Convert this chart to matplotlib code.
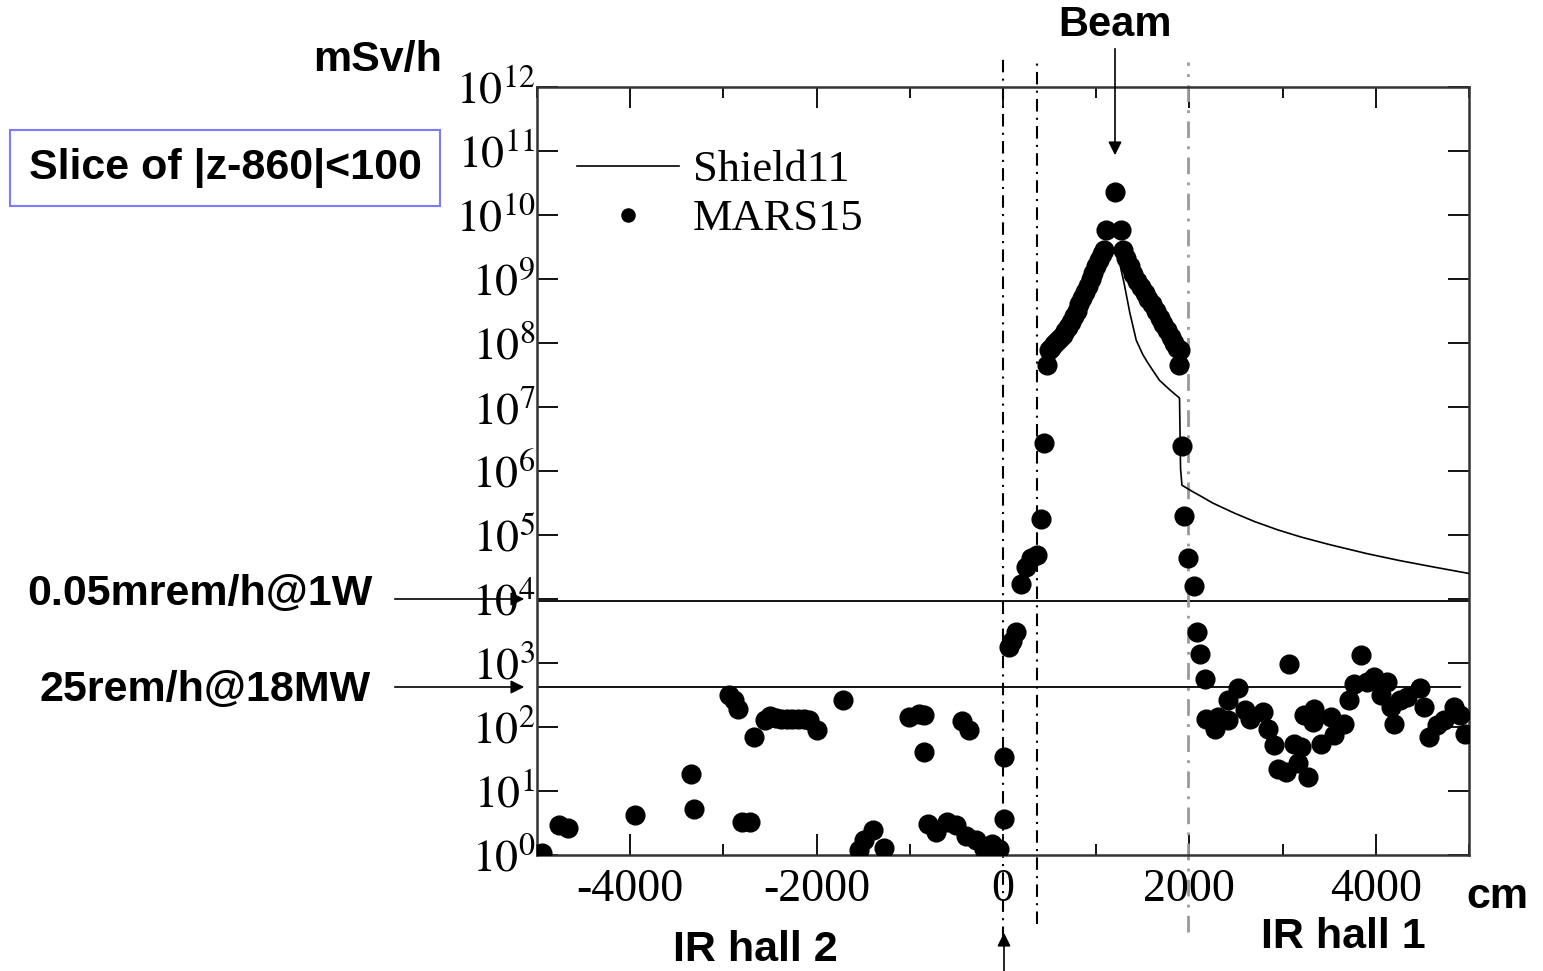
import numpy as np
import matplotlib
matplotlib.use('Agg')
import matplotlib.pyplot as plt
from matplotlib.ticker import FixedLocator, FuncFormatter

plt.rcParams['font.family'] = 'Liberation Serif'
plt.rcParams['mathtext.fontset'] = 'stix'
plt.rcParams['axes.unicode_minus'] = False

# MARS15 dose points (x in cm, dose in mSv/h)
# left tunnel / IR hall 2
hall2_x = [-4950, -4760, -4670, -3950, -3350, -3320, -2945, -2890, -2840, -2800, -2710,
           -2677, -2555, -2500, -2440, -2380, -2320, -2260, -2200, -2140, -2080, -2000,
           -1722, -1540, -1487, -1398, -1273, -1006, -900, -845, -845, -809, -720, -596,
           -506, -435, -400, -364, -293, -204, -115, -43, 10, 10]
hall2_y = [1.07, 2.9, 2.6, 4.2, 18.7, 5.2, 313, 262, 193, 3.3, 3.3,
           71, 130, 150, 140, 135, 135, 135, 135, 135, 130, 89,
           262, 1.2, 1.7, 2.5, 1.3, 144, 158, 152, 41, 3.1, 2.3, 3.3,
           2.9, 126, 2.0, 89, 1.7, 1.26, 1.5, 1.26, 34, 3.7]
# beam region between the walls
beam_x = [64, 100, 140, 189, 242, 296, 367, 403, 439, 474,
          492, 520, 550, 580, 610, 640, 670, 700, 730, 760, 790, 820, 850, 880, 910,
          940, 970, 1000, 1030, 1060, 1081, 1110, 1198, 1270,
          1284, 1320, 1360, 1400, 1440, 1480, 1520, 1560, 1600, 1640, 1680, 1720, 1760,
          1800, 1840, 1870, 1894, 1884, 1920, 1947, 1990, 2044]
beam_y = [1780, 2200, 3000, 17400, 31600, 43000, 48000, 1.8e5, 2.7e6, 4.5e7,
          7.8e7, 8.5e7, 9.5e7, 1.07e8, 1.2e8, 1.35e8, 1.55e8, 1.8e8, 2.1e8, 2.6e8, 3.2e8, 4.0e8,
          5.0e8, 6.3e8, 7.9e8, 1.0e9, 1.26e9, 1.6e9, 2.0e9, 2.45e9, 2.8e9, 5.8e9, 2.3e10, 5.8e9,
          2.8e9, 2.1e9, 1.6e9, 1.2e9, 9.3e8, 7.4e8, 6.0e8, 4.9e8, 4.0e8, 3.2e8, 2.5e8, 2.0e8, 1.6e8,
          1.26e8, 1.0e8, 8.5e7, 7.8e7, 4.5e7, 2.5e6, 2.0e5, 43000, 16000]
# IR hall 1
hall1_x = [2081, 2117, 2163,
           2182, 2271, 2307, 2414, 2414, 2520, 2592, 2645, 2787, 2841, 2912, 2948, 3037,
           3126, 3073, 3197, 3161, 3268, 3233, 3340, 3322, 3410, 3517, 3553, 3660, 3714,
           3767, 3837, 3909, 3980, 4051, 4122, 4158, 4194, 4265, 4336, 4478, 4514, 4568,
           4657, 4728, 4835, 4906, 4959]
hall1_y = [3000, 1400, 570,
           135, 94, 144, 127, 262, 400, 182, 135, 171, 94, 52, 22, 20,
           55, 980, 49, 27, 16.5, 152, 193, 120, 55, 144, 74, 113, 262,
           475, 1320, 500, 600, 315, 500, 205, 113, 262, 295, 400, 205, 70,
           107, 127, 205, 152, 79]

# Shield11 curve (right side of the beam)
shield_x = [1250, 1300, 1360, 1430, 1500, 1550, 1620, 1680, 1800, 1894, 1905, 1920, 2020,
            2128, 2250, 2485, 2700, 2950, 3197, 3500, 3909, 4250, 4621, 4959, 5000]
shield_y = [1.8e9, 8.5e8, 3.0e8, 1.1e8, 6.6e7, 5.0e7, 3.5e7, 2.6e7, 1.8e7, 1.38e7, 1.1e6, 6.0e5, 4.9e5,
            4.0e5, 3.16e5, 2.19e5, 1.62e5, 1.2e5, 9.3e4, 7.1e4, 5.1e4, 4.0e4, 3.16e4, 2.57e4, 2.5e4]

limit_1w = 9300      # 0.05 mrem/h @ 1W
limit_18mw = 420     # 25 rem/h @ 18MW
vlines_x = [0, 363, 1980]

mars_x = hall2_x + beam_x + hall1_x
mars_y = hall2_y + beam_y + hall1_y

W, H = 1543, 971
fig = plt.figure(figsize=(W / 100, H / 100), dpi=100)
ax = fig.add_axes([537 / W, 1 - 855 / H, (1469 - 537) / W, (855 - 87) / H])

def fx(px):
    return px / W

def fy(py):
    return 1 - py / H

ax.plot(shield_x, shield_y, color='black', lw=1.2, zorder=3, label='Shield11')
ax.plot(mars_x, mars_y, 'o', color='black', ms=13.5, zorder=4, label='MARS15')

ax.set_yscale('log')
ax.set_xlim(-5000, 5000)
ax.set_ylim(1, 1e12)

ax.xaxis.set_major_locator(FixedLocator([-4000, -2000, 0, 2000, 4000]))
ax.xaxis.set_minor_locator(FixedLocator([-5000, -3000, -1000, 1000, 3000, 5000]))
ax.yaxis.set_major_locator(FixedLocator([10.0 ** k for k in range(13)]))
ax.yaxis.set_minor_locator(FixedLocator([]))
ax.yaxis.set_major_formatter(FuncFormatter(lambda v, p: r'$10^{%d}$' % round(np.log10(v))))
ax.tick_params(which='both', direction='in', top=True, right=True, labelsize=33, width=1.3)
ax.tick_params(which='major', length=15)
ax.tick_params(which='minor', length=8)
ax.tick_params(axis='x', pad=10)
ax.tick_params(axis='y', pad=1)
for s in ax.spines.values():
    s.set_linewidth(1.8)
    s.set_color('#333333')

# threshold lines
ax.axhline(limit_1w, color='black', lw=1.3, zorder=2)
ax.axhline(limit_18mw, xmax=0.99, color='black', lw=1.3, zorder=2)

# vertical dash-dot lines extending beyond the axes
ax.axvline(vlines_x[0], ymin=-0.11, ymax=1.037, color='black', lw=1.5, ls=(0, (6, 3, 1, 3)), clip_on=False)
ax.axvline(vlines_x[1], ymin=-0.09, ymax=1.032, color='black', lw=1.5, ls=(0, (6, 3, 1, 3)), clip_on=False)
ax.axvline(vlines_x[2], ymin=-0.10, ymax=1.032, color='#999999', lw=2, ls=(0, (6, 3, 1, 3)), clip_on=False)

leg = ax.legend(loc='upper left', bbox_to_anchor=((555 - 537) / (1469 - 537), 1 - (128 - 87) / 768),
                frameon=False, fontsize=32, handlelength=2.3, handletextpad=0.3,
                labelspacing=0.2, borderpad=0, markerscale=0.7)

bold = dict(family='Liberation Sans', fontweight='bold', color='black')
fig.text(fx(378), fy(60), 'mSv/h', ha='center', va='center', fontsize=31, **bold)
fig.text(fx(1115), fy(25), 'Beam', ha='center', va='center', fontsize=30, **bold)
fig.text(fx(225), fy(168), 'Slice of |z-860|<100', ha='center', va='center', fontsize=31, **bold,
         bbox=dict(boxstyle='square,pad=0.42', fc='white', ec='#7b7bff', lw=1.5))
fig.text(fx(200), fy(594), '0.05mrem/h@1W', ha='center', va='center', fontsize=31, **bold)
fig.text(fx(205), fy(690), '25rem/h@18MW', ha='center', va='center', fontsize=31, **bold)
fig.text(fx(755), fy(950), 'IR hall 2', ha='center', va='center', fontsize=31, **bold)
fig.text(fx(1343), fy(937), 'IR hall 1', ha='center', va='center', fontsize=31, **bold)
fig.text(fx(1497), fy(897), 'cm', ha='center', va='center', fontsize=31, **bold)

arrow = dict(arrowstyle='-|>', color='black', lw=1.2, mutation_scale=20)
ax.annotate('', xy=(fx(1115), fy(158)), xytext=(fx(1115), fy(46)),
            xycoords='figure fraction', textcoords='figure fraction', arrowprops=arrow)
ax.annotate('', xy=(fx(527), fy(599)), xytext=(fx(392), fy(599)),
            xycoords='figure fraction', textcoords='figure fraction', arrowprops=arrow)
ax.annotate('', xy=(fx(527), fy(687)), xytext=(fx(392), fy(687)),
            xycoords='figure fraction', textcoords='figure fraction', arrowprops=arrow)
ax.annotate('', xy=(fx(1004), fy(930)), xytext=(fx(1004), fy(975)),
            xycoords='figure fraction', textcoords='figure fraction', arrowprops=arrow)

fig.savefig('out.png', dpi=100)
